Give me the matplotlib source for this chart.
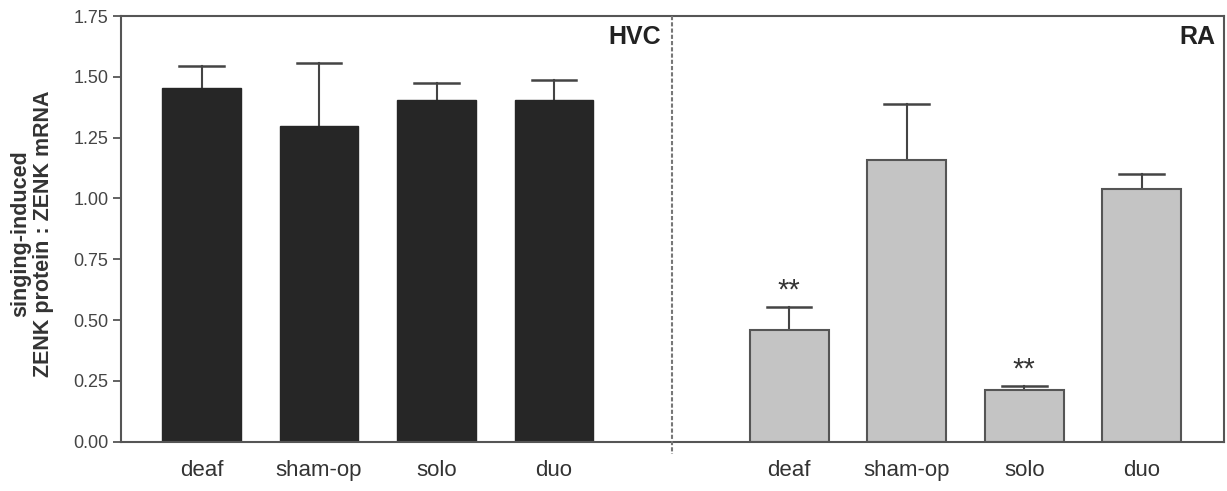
import matplotlib
matplotlib.use("Agg")
import matplotlib.pyplot as plt

categories = ["deaf", "sham-op", "solo", "duo"]
hvc_values = [1.453, 1.299, 1.404, 1.405]
hvc_err = [0.092, 0.257, 0.070, 0.080]
ra_values = [0.459, 1.159, 0.212, 1.037]
ra_err = [0.093, 0.228, 0.017, 0.062]
ra_stars = ["**", "", "**", ""]
yticks = [0.00, 0.25, 0.50, 0.75, 1.00, 1.25, 1.50, 1.75]

plt.rcParams['font.family'] = ['Liberation Sans', 'DejaVu Sans']

fig = plt.figure(figsize=(12.27, 4.91), dpi=100)
ax = fig.add_axes([121/1227, 1 - 441.7/491, (1224-121)/1227, (441.7-16)/491])

hvc_x = [0, 1, 2, 3]
ra_x = [5, 6, 7, 8]
w = 0.67
axis_col = "#555555"

ax.bar(hvc_x, hvc_values, width=w, color="#262626", edgecolor="#262626", linewidth=1, zorder=2)
ax.bar(ra_x, ra_values, width=w, color="#c4c4c4", edgecolor="#555555", linewidth=1.5, zorder=2)

for xs, vals, errs in [(hvc_x, hvc_values, hvc_err), (ra_x, ra_values, ra_err)]:
    for x, v, e in zip(xs, vals, errs):
        ax.plot([x, x], [v, v + e], color="#444444", lw=1.5, zorder=1)
        ax.plot([x - 0.19, x + 0.19], [v + e, v + e], color="#444444", lw=1.8, zorder=1)

for x, v, e, s in zip(ra_x, ra_values, ra_err, ra_stars):
    if s:
        ax.text(x, v + e + 0.035, s, ha="center", va="baseline", fontsize=21, color="#333333")

ax.set_xlim(-0.685, 8.70)
ax.set_ylim(0, 1.75)
ax.set_yticks(yticks)
ax.set_yticklabels([f"{t:.2f}" for t in yticks], fontsize=13, color="#444444")
ax.tick_params(axis="y", direction="out", length=6, width=1.3, color=axis_col, pad=3)
ax.set_xticks(hvc_x + ra_x)
ax.set_xticklabels(categories + categories, fontsize=16, color="#333333")
ax.tick_params(axis="x", length=0, pad=13)

for sp in ax.spines.values():
    sp.set_color(axis_col)
    sp.set_linewidth(1.5)

ax.plot([4, 4], [1.75, -0.05], color="#777777", lw=1.5, ls=(0, (2, 1)), clip_on=False, zorder=3)

ax.text(0.4896, 0.95, "HVC", transform=ax.transAxes, ha="right", va="center",
        fontsize=18, fontweight="bold", color="#222222")
ax.text(0.9918, 0.95, "RA", transform=ax.transAxes, ha="right", va="center",
        fontsize=18, fontweight="bold", color="#222222")

fig.text(32/1227, 1 - 234/491, "singing-induced\nZENK protein : ZENK mRNA", rotation=90,
         ha="center", va="center", fontsize=15.5, fontweight="bold", color="#333333",
         linespacing=1.1, multialignment="center")

fig.savefig("out.png", dpi=100)
